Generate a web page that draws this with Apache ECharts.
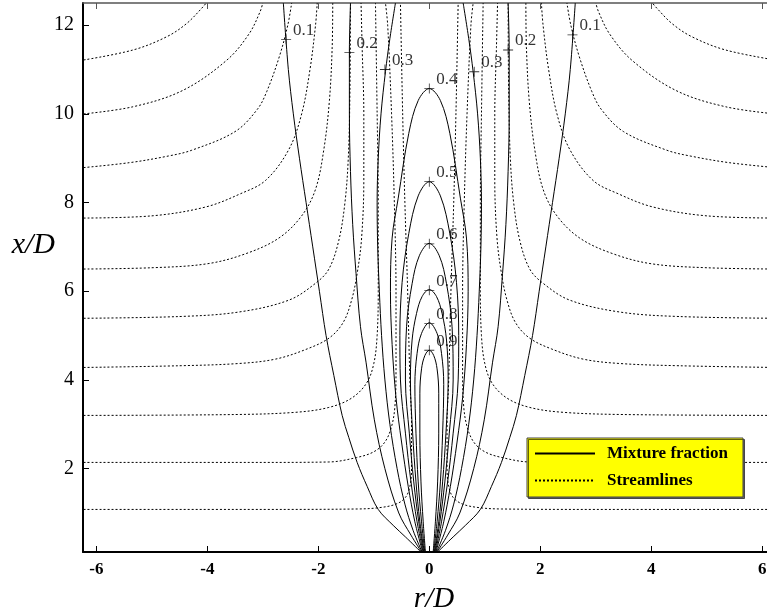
<!DOCTYPE html>
<html>
<head>
<meta charset="utf-8">
<script src="https://cdn.jsdelivr.net/npm/echarts@6/dist/echarts.min.js"></script>
<style>
html,body{margin:0;padding:0;background:#fff;}
#main{width:767px;height:615px;}
</style>
</head>
<body>
<div id="main"></div>
<script>
// mixture fraction contours, right half, [r/D, x/D] from the nozzle upward
var c01=[[0.15,0.12],[0.43,0.46],[0.65,0.72],[0.92,1.08],[1.12,1.6],[1.3,2.14],[1.45,2.7],[1.57,3.2],[1.72,4.1],[1.86,5],[1.98,6],[2.1,7],[2.22,8],[2.34,9],[2.45,10],[2.54,11],[2.63,12.5]];
var c02=[[0.14,0.12],[0.33,0.5],[0.55,1],[0.8,2],[0.99,3.1],[1.14,4.4],[1.24,5.2],[1.32,6.4],[1.38,7.5],[1.42,8.7],[1.44,10],[1.44,11.4],[1.42,12.5]];
var c03=[[0.13,0.12],[0.29,0.6],[0.44,1.2],[0.58,2],[0.71,3],[0.8,4],[0.86,5],[0.9,6],[0.93,7],[0.94,8],[0.92,9],[0.87,10],[0.79,10.95],[0.71,11.7],[0.61,12.5]];
var c04=[[0.12,0.12],[0.26,0.8],[0.38,1.6],[0.5,2.6],[0.6,3.6],[0.67,4.8],[0.7,6],[0.67,7.2],[0.56,8.1],[0.37,9.56],[0.2,10.3],[0,10.57]];
var c05=[[0.11,0.12],[0.22,0.8],[0.33,1.7],[0.43,2.8],[0.52,4],[0.53,5],[0.49,6.2],[0.37,7.3],[0.2,8.15],[0,8.47]];
var c06=[[0.1,0.12],[0.19,0.8],[0.28,1.7],[0.36,2.8],[0.43,4],[0.41,5.2],[0.31,6.17],[0.18,6.8],[0,7.08]];
var c07=[[0.09,0.12],[0.17,0.8],[0.24,1.7],[0.3,2.8],[0.34,4],[0.31,4.9],[0.23,5.5],[0.13,5.88],[0,6.04]];
var c08=[[0.08,0.12],[0.14,0.8],[0.2,1.7],[0.24,2.8],[0.26,3.9],[0.22,4.6],[0.14,5.05],[0,5.29]];
var c09=[[0.07,0.12],[0.11,0.8],[0.15,1.7],[0.17,2.8],[0.17,3.7],[0.14,4.25],[0.08,4.55],[0,4.67]];
var contours=[c01,c02,c03,c04,c05,c06,c07,c08,c09];

// streamlines, right half, from the far field inward and up
var s1=[[6.3,1.08],[3,1.08],[1.3,1.09],[0.9,1.12],[0.6,1.2],[0.43,1.35],[0.35,1.6],[0.32,2],[0.32,3],[0.35,4],[0.39,6],[0.44,8],[0.48,10],[0.52,12.5]];
var s2=[[6.3,2.14],[3,2.14],[1.81,2.15],[1.31,2.25],[1.0,2.38],[0.8,2.6],[0.68,2.95],[0.62,3.4],[0.6,4.2],[0.6,6],[0.63,8],[0.68,10],[0.75,12],[0.79,12.5]];
var s3=[[6.3,3.2],[3.5,3.22],[2.41,3.27],[1.81,3.38],[1.4,3.59],[1.13,3.93],[1.0,4.37],[0.94,5],[0.92,6],[0.92,8],[0.94,10],[0.97,12.5]];
var s4=[[6.3,4.28],[4.5,4.32],[3.44,4.37],[2.77,4.47],[2.2,4.7],[1.8,4.95],[1.55,5.3],[1.4,5.8],[1.3,6.4],[1.22,7.2],[1.18,8.5],[1.18,10],[1.21,11.5],[1.23,12.5]];
var s5=[[6.3,5.39],[4.5,5.43],[3.44,5.53],[2.53,5.8],[2.05,6.18],[1.81,6.5],[1.63,7.15],[1.52,8],[1.46,9],[1.43,10.5],[1.42,12.5]];
var s6=[[6.3,6.5],[5,6.53],[4,6.62],[3.3,6.85],[2.71,7.2],[2.3,7.7],[2.05,8.3],[1.9,9.2],[1.8,10.3],[1.75,11.5],[1.74,12.5]];
var s7=[[6.3,7.65],[5,7.7],[4.03,7.9],[3.4,8.2],[2.95,8.5],[2.53,9.2],[2.3,10],[2.15,11],[2.05,12],[2.02,12.5]];
var s8=[[6.3,8.78],[5.4,8.9],[4.7,9.05],[4.28,9.18],[3.5,9.6],[3.1,10.1],[2.93,10.5],[2.7,11.3],[2.55,12],[2.48,12.5]];
var s9=[[6.3,9.99],[5.34,10.16],[4.44,10.53],[3.65,11.21],[3.25,11.8],[3.05,12.3],[3.0,12.5]];
var s10=[[6.3,11.2],[5.34,11.44],[4.73,11.74],[4.37,12.04],[4.08,12.41],[4.02,12.5]];
var streams=[s1,s2,s3,s4,s5,s6,s7,s8,s9,s10];

// contour labels: [r/D, x/D, text]
var labelPts=[[-2.58,11.68,'0.1'],[-1.44,11.38,'0.2'],[-0.8,11.0,'0.3'],[0.81,10.95,'0.3'],[1.42,11.44,'0.2'],[2.58,11.78,'0.1'],
	[0,10.57,'0.4'],[0,8.47,'0.5'],[0,7.07,'0.6'],[0,6.02,'0.7'],[0,5.27,'0.8'],[0,4.67,'0.9']];

var xTicks=[-6,-4,-2,0,2,4,6];
var yTicks=[2,4,6,8,10,12];

function mirror(arr){
	var out=[];
	for(var i=0;i<arr.length;i++){out.push([-arr[i][0],arr[i][1]]);}
	return out;
}

function lineSeries(name,data,type){
	return {name:name,type:'line',symbol:'none',smooth:0.35,data:data,
		lineStyle:{color:'#000',width:1,type:type},itemStyle:{color:'#000'}};
}

var series=[];
for(var i=0;i<contours.length;i++){
	var c=contours[i];
	if(c[c.length-1][0]===0){ //闭合的等值线
		series.push(lineSeries('Mixture fraction',mirror(c).concat(c.slice(0,c.length-1).reverse()),'solid'));
	}else{
		series.push(lineSeries('Mixture fraction',c,'solid'));
		series.push(lineSeries('Mixture fraction',mirror(c),'solid'));
	}
}
for(var i=0;i<streams.length;i++){
	series.push(lineSeries('Streamlines',streams[i],[2,2]));
	series.push(lineSeries('Streamlines',mirror(streams[i]),[2,2]));
}
series.push({
	type:'scatter',
	symbol:'path://M4.6,0H5.4V4.6H10V5.4H5.4V10H4.6V5.4H0V4.6H4.6Z',
	symbolSize:10,
	itemStyle:{color:'#000'},
	label:{show:true,position:'right',distance:2,offset:[0,-9],color:'#000',
		fontFamily:'Liberation Serif',fontSize:17,
		formatter:function(p){return p.data[2];}},
	data:labelPts,z:5
});

var myChart=echarts.init(document.getElementById('main'));
var option={
	animation:false,
	backgroundColor:'#fff',
	grid:{left:83,right:0,top:3,bottom:63,outerBoundsMode:'none'},
	legend:{
		data:['Mixture fraction','Streamlines'],
		orient:'vertical',left:527,top:438,
		backgroundColor:'#ffff00',borderColor:'#444',borderWidth:1,
		padding:[7,15,8,7],itemGap:10,itemWidth:60,itemHeight:14,
		shadowColor:'rgba(0,0,0,0.6)',shadowOffsetX:1.5,shadowOffsetY:1.5,
		itemStyle:{opacity:0},
		textStyle:{fontFamily:'Liberation Serif',fontWeight:'bold',fontSize:17,color:'#000',padding:[0,0,0,7]},
		selectedMode:false
	},
	xAxis:[{
		type:'value',min:-6.24,max:6.085,
		name:'r/D',nameLocation:'middle',nameGap:33,nameMoveOverlap:false,
		nameTextStyle:{fontFamily:'Liberation Serif',fontStyle:'italic',fontSize:29,color:'#000',padding:[0,0,0,18]},
		axisLine:{onZero:false,lineStyle:{color:'#000',width:2}},
		axisTick:{inside:true,length:6,customValues:xTicks,lineStyle:{color:'#000'}},
		axisLabel:{customValues:xTicks,margin:9,fontFamily:'Liberation Serif',fontWeight:'bold',fontSize:17,color:'#000'},
		splitLine:{show:false}
	},{
		type:'value',position:'top',min:-6.24,max:6.085,
		axisLine:{onZero:false,lineStyle:{color:'#555',width:1.5}},
		axisTick:{inside:true,length:6,customValues:xTicks,lineStyle:{color:'#555'}},
		axisLabel:{show:false},splitLine:{show:false}
	}],
	yAxis:{
		type:'value',min:0.12,max:12.5,
		name:'x/D',nameLocation:'middle',nameGap:28,nameRotate:0,nameMoveOverlap:false,
		nameTextStyle:{fontFamily:'Liberation Serif',fontStyle:'italic',fontSize:30,color:'#000',verticalAlign:'bottom',lineHeight:64},
		axisLine:{show:true,onZero:false,lineStyle:{color:'#000',width:2}},
		axisTick:{show:true,inside:true,length:6,customValues:yTicks,lineStyle:{color:'#000'}},
		axisLabel:{customValues:yTicks,margin:9,fontFamily:'Liberation Serif',fontSize:20,color:'#000'},
		splitLine:{show:false}
	},
	series:series
};
myChart.setOption(option);
</script>
</body>
</html>
